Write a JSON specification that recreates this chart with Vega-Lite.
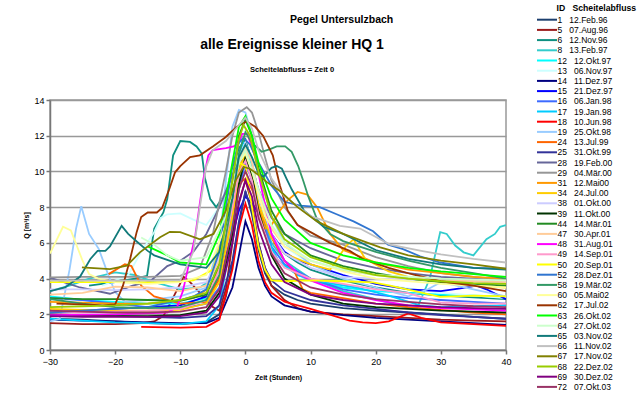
{
"$schema": "https://vega.github.io/schema/vega-lite/v6.json",
"background": "white",
"padding": {"left": 22, "top": 4, "right": 0, "bottom": 0},
"bounds": "flush",
"config": {"font": "Liberation Sans", "view": {"stroke": "#999", "strokeWidth": 1.5}},
"title": {"text": "Pegel Untersulzbach", "fontSize": 10.5, "fontWeight": "bold", "color": "#000", "anchor": "middle", "dx": 12, "offset": -21},
"datasets": {
"events": [{"id":1,"date":"12.Feb.96"},{"id":5,"date":"07.Aug.96"},{"id":6,"date":"12.Nov.96"},{"id":8,"date":"13.Feb.97"},{"id":12,"date":"12.Okt.97"},{"id":13,"date":"06.Nov.97"},{"id":14,"date":"11.Dez.97"},{"id":15,"date":"21.Dez.97"},{"id":16,"date":"06.Jan.98"},{"id":17,"date":"19.Jan.98"},{"id":18,"date":"10.Jun.98"},{"id":19,"date":"25.Okt.98"},{"id":24,"date":"13.Jul.99"},{"id":25,"date":"31.Okt.99"},{"id":28,"date":"19.Feb.00"},{"id":29,"date":"04.Mär.00"},{"id":31,"date":"12.Mai00"},{"id":34,"date":"24.Jul.00"},{"id":38,"date":"01.Okt.00"},{"id":39,"date":"11.Okt.00"},{"id":44,"date":"14.Mär.01"},{"id":47,"date":"30.Apr.01"},{"id":48,"date":"31.Aug.01"},{"id":49,"date":"14.Sep.01"},{"id":50,"date":"20.Sep.01"},{"id":52,"date":"28.Dez.01"},{"id":58,"date":"19.Mär.02"},{"id":60,"date":"05.Mai02"},{"id":62,"date":"17.Jul.02"},{"id":63,"date":"26.Okt.02"},{"id":64,"date":"27.Okt.02"},{"id":65,"date":"03.Nov.02"},{"id":66,"date":"11.Nov.02"},{"id":67,"date":"17.Nov.02"},{"id":68,"date":"22.Dez.02"},{"id":69,"date":"30.Dez.02"},{"id":72,"date":"07.Okt.03"}],
"q": [
{"id":1,"t":-30,"q":1.75},{"id":1,"t":-25,"q":1.7},{"id":1,"t":-20,"q":1.6},{"id":1,"t":-15,"q":1.5},{"id":1,"t":-10,"q":1.45},{"id":1,"t":-6,"q":1.55},{"id":1,"t":-4,"q":2.0},{"id":1,"t":-3,"q":3.0},{"id":1,"t":-2,"q":4.8},{"id":1,"t":-1,"q":7.0},{"id":1,"t":0,"q":8.9},{"id":1,"t":1,"q":7.6},{"id":1,"t":2,"q":5.6},{"id":1,"t":3,"q":4.3},{"id":1,"t":4,"q":3.6},{"id":1,"t":6,"q":3.1},{"id":1,"t":8,"q":2.8},{"id":1,"t":10,"q":2.6},{"id":1,"t":15,"q":2.35},{"id":1,"t":20,"q":2.2},{"id":1,"t":25,"q":2.1},{"id":1,"t":30,"q":2.0},{"id":1,"t":35,"q":1.85},{"id":1,"t":40,"q":1.75},
{"id":5,"t":-30,"q":1.5},{"id":5,"t":-25,"q":1.45},{"id":5,"t":-20,"q":1.45},{"id":5,"t":-16,"q":1.5},{"id":5,"t":-14,"q":1.6},{"id":5,"t":-12.6,"q":1.9},{"id":5,"t":-11,"q":3.0},{"id":5,"t":-9.5,"q":4.1},{"id":5,"t":-8.5,"q":3.8},{"id":5,"t":-6.5,"q":3.0},{"id":5,"t":-5,"q":2.4},{"id":5,"t":-4,"q":2.2},{"id":5,"t":-3,"q":3.4},{"id":5,"t":-2,"q":6.0},{"id":5,"t":-1,"q":8.3},{"id":5,"t":0,"q":9.5},{"id":5,"t":1,"q":8.2},{"id":5,"t":2,"q":6.0},{"id":5,"t":3,"q":4.6},{"id":5,"t":4,"q":3.6},{"id":5,"t":6,"q":2.8},{"id":5,"t":8,"q":2.35},{"id":5,"t":10,"q":2.15},{"id":5,"t":15,"q":2.0},{"id":5,"t":20,"q":1.9},{"id":5,"t":25,"q":1.8},{"id":5,"t":30,"q":1.7},{"id":5,"t":35,"q":1.65},{"id":5,"t":40,"q":1.6},
{"id":6,"t":-24,"q":3.6},{"id":6,"t":-20,"q":3.8},{"id":6,"t":-17,"q":4.0},{"id":6,"t":-15.1,"q":4.15},{"id":6,"t":-14,"q":6.8},{"id":6,"t":-12.6,"q":7.7},{"id":6,"t":-12,"q":8.45},{"id":6,"t":-11.1,"q":10.9},{"id":6,"t":-10,"q":11.7},{"id":6,"t":-8.5,"q":11.65},{"id":6,"t":-7.5,"q":11.4},{"id":6,"t":-6.7,"q":11.0},{"id":6,"t":-6.2,"q":9.6},{"id":6,"t":-5.4,"q":8.45},{"id":6,"t":-4.5,"q":8.0},{"id":6,"t":-3,"q":8.8},{"id":6,"t":-2,"q":10.2},{"id":6,"t":-1,"q":11.3},{"id":6,"t":0,"q":11.8},{"id":6,"t":1,"q":10.5},{"id":6,"t":2,"q":8.8},{"id":6,"t":3,"q":7.4},{"id":6,"t":4,"q":6.4},{"id":6,"t":6,"q":5.4},{"id":6,"t":8,"q":4.9},{"id":6,"t":10,"q":4.5},{"id":6,"t":15,"q":3.9},{"id":6,"t":20,"q":3.5},{"id":6,"t":25,"q":3.2},{"id":6,"t":30,"q":3.05},{"id":6,"t":35,"q":2.95},{"id":6,"t":40,"q":2.85},
{"id":8,"t":-30,"q":3.3},{"id":8,"t":-27,"q":3.6},{"id":8,"t":-24,"q":4.0},{"id":8,"t":-20,"q":4.35},{"id":8,"t":-17,"q":4.2},{"id":8,"t":-14,"q":3.8},{"id":8,"t":-10,"q":3.4},{"id":8,"t":-7,"q":3.5},{"id":8,"t":-5,"q":4.0},{"id":8,"t":-3,"q":6.0},{"id":8,"t":-2,"q":8.0},{"id":8,"t":-1,"q":10.0},{"id":8,"t":0,"q":10.8},{"id":8,"t":1,"q":9.8},{"id":8,"t":2,"q":8.0},{"id":8,"t":4,"q":6.0},{"id":8,"t":6,"q":5.0},{"id":8,"t":10,"q":4.0},{"id":8,"t":15,"q":3.3},{"id":8,"t":20,"q":2.85},{"id":8,"t":24,"q":2.45},{"id":8,"t":26.3,"q":2.3},{"id":8,"t":28.3,"q":4.0},{"id":8,"t":29.9,"q":6.6},{"id":8,"t":30.9,"q":6.5},{"id":8,"t":32.2,"q":5.85},{"id":8,"t":33.5,"q":5.47},{"id":8,"t":35,"q":5.3},{"id":8,"t":37,"q":6.2},{"id":8,"t":38.3,"q":6.5},{"id":8,"t":39.1,"q":6.9},{"id":8,"t":40,"q":7.0},
{"id":12,"t":-30,"q":3.0},{"id":12,"t":-25,"q":2.8},{"id":12,"t":-20,"q":2.7},{"id":12,"t":-15,"q":2.6},{"id":12,"t":-10,"q":2.6},{"id":12,"t":-6,"q":2.9},{"id":12,"t":-4,"q":4.0},{"id":12,"t":-2.5,"q":6.5},{"id":12,"t":-1.5,"q":9.5},{"id":12,"t":-0.5,"q":11.5},{"id":12,"t":0.5,"q":11.0},{"id":12,"t":1.5,"q":9.0},{"id":12,"t":3,"q":6.5},{"id":12,"t":5,"q":5.0},{"id":12,"t":8,"q":4.2},{"id":12,"t":10,"q":3.9},{"id":12,"t":15,"q":3.5},{"id":12,"t":20,"q":3.3},{"id":12,"t":25,"q":3.2},{"id":12,"t":30,"q":3.1},{"id":12,"t":35,"q":3.05},{"id":12,"t":40,"q":3.0},
{"id":13,"t":-22,"q":3.6},{"id":13,"t":-18,"q":4.2},{"id":13,"t":-16,"q":5.5},{"id":13,"t":-14,"q":6.6},{"id":13,"t":-13,"q":7.4},{"id":13,"t":-12,"q":7.6},{"id":13,"t":-10,"q":7.65},{"id":13,"t":-8,"q":7.3},{"id":13,"t":-6,"q":7.0},{"id":13,"t":-4,"q":8.0},{"id":13,"t":-2,"q":10.0},{"id":13,"t":-0.5,"q":11.3},{"id":13,"t":1,"q":10.2},{"id":13,"t":2,"q":8.8},{"id":13,"t":4,"q":7.0},{"id":13,"t":6,"q":5.8},{"id":13,"t":10,"q":4.8},{"id":13,"t":15,"q":4.1},{"id":13,"t":20,"q":3.7},{"id":13,"t":30,"q":3.2},{"id":13,"t":40,"q":2.9},
{"id":14,"t":-30,"q":1.7},{"id":14,"t":-25,"q":1.65},{"id":14,"t":-20,"q":1.6},{"id":14,"t":-15,"q":1.55},{"id":14,"t":-10,"q":1.5},{"id":14,"t":-6,"q":1.5},{"id":14,"t":-4,"q":1.8},{"id":14,"t":-2,"q":3.5},{"id":14,"t":-1,"q":5.3},{"id":14,"t":0,"q":7.2},{"id":14,"t":1,"q":6.2},{"id":14,"t":2,"q":4.6},{"id":14,"t":3,"q":3.6},{"id":14,"t":4,"q":3.0},{"id":14,"t":6,"q":2.5},{"id":14,"t":10,"q":2.15},{"id":14,"t":15,"q":1.95},{"id":14,"t":20,"q":1.8},{"id":14,"t":25,"q":1.7},{"id":14,"t":30,"q":1.6},{"id":14,"t":35,"q":1.5},{"id":14,"t":40,"q":1.4},
{"id":15,"t":-30,"q":2.1},{"id":15,"t":-25,"q":2.2},{"id":15,"t":-20,"q":2.3},{"id":15,"t":-15,"q":2.4},{"id":15,"t":-10,"q":2.5},{"id":15,"t":-6,"q":3.0},{"id":15,"t":-4,"q":4.0},{"id":15,"t":-2,"q":6.5},{"id":15,"t":-1,"q":7.8},{"id":15,"t":0,"q":8.6},{"id":15,"t":1,"q":8.2},{"id":15,"t":2,"q":7.7},{"id":15,"t":3,"q":7.45},{"id":15,"t":4,"q":6.5},{"id":15,"t":6,"q":5.5},{"id":15,"t":8,"q":5.0},{"id":15,"t":10,"q":4.8},{"id":15,"t":15,"q":4.2},{"id":15,"t":20,"q":3.7},{"id":15,"t":25,"q":3.4},{"id":15,"t":30,"q":3.3},{"id":15,"t":33,"q":3.45},{"id":15,"t":35.5,"q":3.6},{"id":15,"t":37,"q":3.4},{"id":15,"t":40,"q":2.85},
{"id":16,"t":-30,"q":2.9},{"id":16,"t":-25,"q":2.8},{"id":16,"t":-20,"q":2.6},{"id":16,"t":-15,"q":2.4},{"id":16,"t":-10,"q":2.3},{"id":16,"t":-6,"q":2.6},{"id":16,"t":-4,"q":3.5},{"id":16,"t":-2,"q":6.5},{"id":16,"t":-1,"q":9.0},{"id":16,"t":0,"q":10.5},{"id":16,"t":1,"q":9.5},{"id":16,"t":2,"q":7.8},{"id":16,"t":4,"q":5.8},{"id":16,"t":6,"q":4.8},{"id":16,"t":10,"q":4.0},{"id":16,"t":15,"q":3.4},{"id":16,"t":20,"q":3.1},{"id":16,"t":25,"q":2.9},{"id":16,"t":30,"q":2.8},{"id":16,"t":35,"q":2.7},{"id":16,"t":40,"q":2.6},
{"id":17,"t":-30,"q":1.75},{"id":17,"t":-25,"q":1.65},{"id":17,"t":-20,"q":1.55},{"id":17,"t":-15,"q":1.5},{"id":17,"t":-10,"q":1.45},{"id":17,"t":-6,"q":1.6},{"id":17,"t":-4,"q":2.5},{"id":17,"t":-2.5,"q":5.5},{"id":17,"t":-1.5,"q":9.0},{"id":17,"t":-0.5,"q":11.7},{"id":17,"t":0.5,"q":11.2},{"id":17,"t":1.5,"q":9.0},{"id":17,"t":3,"q":6.5},{"id":17,"t":5,"q":5.0},{"id":17,"t":8,"q":4.2},{"id":17,"t":12,"q":3.8},{"id":17,"t":17,"q":3.5},{"id":17,"t":22,"q":3.05},{"id":17,"t":26.8,"q":2.5},{"id":17,"t":30,"q":2.4},{"id":17,"t":35,"q":2.45},{"id":17,"t":40,"q":2.5},
{"id":18,"t":-16,"q":1.3},{"id":18,"t":-10,"q":1.25},{"id":18,"t":-6,"q":1.3},{"id":18,"t":-4,"q":1.7},{"id":18,"t":-2,"q":4.5},{"id":18,"t":-1,"q":6.8},{"id":18,"t":0,"q":8.2},{"id":18,"t":1,"q":7.0},{"id":18,"t":2,"q":5.0},{"id":18,"t":3,"q":3.8},{"id":18,"t":4,"q":3.2},{"id":18,"t":6,"q":2.7},{"id":18,"t":10,"q":2.3},{"id":18,"t":16,"q":1.65},{"id":18,"t":18,"q":1.55},{"id":18,"t":20,"q":1.5},{"id":18,"t":22,"q":1.6},{"id":18,"t":24,"q":1.9},{"id":18,"t":25,"q":2.05},{"id":18,"t":27,"q":1.8},{"id":18,"t":30,"q":1.55},{"id":18,"t":35,"q":1.45},{"id":18,"t":40,"q":1.35},
{"id":19,"t":-30,"q":1.6},{"id":19,"t":-28.5,"q":1.75},{"id":19,"t":-27,"q":4.5},{"id":19,"t":-26,"q":6.8},{"id":19,"t":-25.2,"q":8.05},{"id":19,"t":-24,"q":6.5},{"id":19,"t":-22.5,"q":5.65},{"id":19,"t":-21,"q":4.15},{"id":19,"t":-20,"q":3.25},{"id":19,"t":-18.5,"q":2.7},{"id":19,"t":-15,"q":2.8},{"id":19,"t":-10,"q":3.0},{"id":19,"t":-6,"q":3.5},{"id":19,"t":-4,"q":6.0},{"id":19,"t":-3,"q":9.5},{"id":19,"t":-2,"q":12.5},{"id":19,"t":-1,"q":13.45},{"id":19,"t":0,"q":13.3},{"id":19,"t":1,"q":12.0},{"id":19,"t":2,"q":10.0},{"id":19,"t":4,"q":7.5},{"id":19,"t":6,"q":6.0},{"id":19,"t":10,"q":4.8},{"id":19,"t":15,"q":4.0},{"id":19,"t":20,"q":3.5},{"id":19,"t":25,"q":3.0},{"id":19,"t":28,"q":3.4},{"id":19,"t":30,"q":3.8},{"id":19,"t":35,"q":3.4},{"id":19,"t":40,"q":3.0},
{"id":24,"t":-21,"q":4.25},{"id":24,"t":-18.5,"q":4.8},{"id":24,"t":-17.5,"q":4.7},{"id":24,"t":-16,"q":3.6},{"id":24,"t":-14,"q":3.0},{"id":24,"t":-10,"q":2.6},{"id":24,"t":-6,"q":2.7},{"id":24,"t":-4,"q":4.0},{"id":24,"t":-2,"q":7.5},{"id":24,"t":-1,"q":9.3},{"id":24,"t":0,"q":9.6},{"id":24,"t":1,"q":9.0},{"id":24,"t":2,"q":8.0},{"id":24,"t":4,"q":6.3},{"id":24,"t":6,"q":5.0},{"id":24,"t":7.5,"q":4.4},{"id":24,"t":8.8,"q":3.4},{"id":24,"t":10,"q":3.2},{"id":24,"t":15,"q":2.9},{"id":24,"t":20,"q":2.6},{"id":24,"t":25,"q":2.4},{"id":24,"t":30,"q":2.25},{"id":24,"t":35,"q":2.1},{"id":24,"t":40,"q":2.0},
{"id":25,"t":-30,"q":2.0},{"id":25,"t":-25,"q":1.95},{"id":25,"t":-20,"q":1.9},{"id":25,"t":-15,"q":1.85},{"id":25,"t":-10,"q":1.8},{"id":25,"t":-6,"q":1.9},{"id":25,"t":-4,"q":2.5},{"id":25,"t":-2,"q":5.0},{"id":25,"t":-1,"q":7.2},{"id":25,"t":0,"q":8.85},{"id":25,"t":1,"q":7.8},{"id":25,"t":2,"q":6.0},{"id":25,"t":3,"q":4.6},{"id":25,"t":4,"q":3.9},{"id":25,"t":6,"q":3.3},{"id":25,"t":10,"q":2.8},{"id":25,"t":15,"q":2.5},{"id":25,"t":20,"q":2.3},{"id":25,"t":25,"q":2.1},{"id":25,"t":30,"q":1.95},{"id":25,"t":35,"q":1.85},{"id":25,"t":40,"q":1.75},
{"id":28,"t":-30,"q":4.05},{"id":28,"t":-25.4,"q":3.5},{"id":28,"t":-20.8,"q":3.15},{"id":28,"t":-17.3,"q":3.6},{"id":28,"t":-14.6,"q":3.85},{"id":28,"t":-12,"q":4.7},{"id":28,"t":-10,"q":5.0},{"id":28,"t":-8,"q":5.5},{"id":28,"t":-6,"q":6.5},{"id":28,"t":-4,"q":8.0},{"id":28,"t":-2,"q":9.8},{"id":28,"t":-1,"q":10.5},{"id":28,"t":0,"q":10.8},{"id":28,"t":1,"q":10.2},{"id":28,"t":2,"q":9.0},{"id":28,"t":4,"q":7.4},{"id":28,"t":6,"q":6.5},{"id":28,"t":10,"q":5.7},{"id":28,"t":15,"q":5.0},{"id":28,"t":20,"q":4.6},{"id":28,"t":25,"q":4.3},{"id":28,"t":30,"q":4.1},{"id":28,"t":35,"q":4.0},{"id":28,"t":40,"q":3.9},
{"id":29,"t":-30,"q":4.07},{"id":29,"t":-25,"q":4.1},{"id":29,"t":-20,"q":4.1},{"id":29,"t":-15,"q":4.1},{"id":29,"t":-10,"q":4.15},{"id":29,"t":-7,"q":4.6},{"id":29,"t":-5,"q":6.5},{"id":29,"t":-3,"q":10.0},{"id":29,"t":-2,"q":12.0},{"id":29,"t":-1,"q":13.3},{"id":29,"t":0.2,"q":13.6},{"id":29,"t":1,"q":13.3},{"id":29,"t":2,"q":12.2},{"id":29,"t":3,"q":10.8},{"id":29,"t":4,"q":9.5},{"id":29,"t":6,"q":8.0},{"id":29,"t":8,"q":7.0},{"id":29,"t":10,"q":6.4},{"id":29,"t":15,"q":5.9},{"id":29,"t":20,"q":5.2},{"id":29,"t":25,"q":4.7},{"id":29,"t":30,"q":4.3},{"id":29,"t":35,"q":4.1},{"id":29,"t":40,"q":3.9},
{"id":31,"t":-30,"q":2.7},{"id":31,"t":-25,"q":2.65},{"id":31,"t":-20,"q":2.6},{"id":31,"t":-15,"q":2.6},{"id":31,"t":-11.6,"q":2.7},{"id":31,"t":-8,"q":2.9},{"id":31,"t":-5,"q":3.6},{"id":31,"t":-3,"q":6.0},{"id":31,"t":-2,"q":8.5},{"id":31,"t":-1,"q":10.3},{"id":31,"t":0,"q":10.8},{"id":31,"t":1,"q":9.8},{"id":31,"t":2,"q":8.0},{"id":31,"t":3,"q":6.8},{"id":31,"t":4,"q":7.0},{"id":31,"t":5.3,"q":7.8},{"id":31,"t":6.5,"q":8.4},{"id":31,"t":8,"q":8.85},{"id":31,"t":9.5,"q":8.7},{"id":31,"t":11,"q":8.0},{"id":31,"t":13,"q":6.5},{"id":31,"t":15,"q":5.6},{"id":31,"t":20,"q":4.9},{"id":31,"t":25,"q":4.5},{"id":31,"t":30,"q":4.3},{"id":31,"t":35,"q":4.1},{"id":31,"t":40,"q":4.0},
{"id":34,"t":-30,"q":2.3},{"id":34,"t":-25,"q":2.25},{"id":34,"t":-20,"q":2.2},{"id":34,"t":-15,"q":2.2},{"id":34,"t":-10,"q":2.25},{"id":34,"t":-6,"q":2.6},{"id":34,"t":-4,"q":3.8},{"id":34,"t":-2,"q":7.5},{"id":34,"t":-1,"q":10.0},{"id":34,"t":0,"q":11.0},{"id":34,"t":1,"q":10.0},{"id":34,"t":2,"q":8.2},{"id":34,"t":4,"q":6.3},{"id":34,"t":6,"q":5.4},{"id":34,"t":10,"q":4.8},{"id":34,"t":13,"q":4.5},{"id":34,"t":15.5,"q":5.85},{"id":34,"t":16.6,"q":6.2},{"id":34,"t":18.4,"q":5.1},{"id":34,"t":19.4,"q":4.9},{"id":34,"t":22,"q":4.4},{"id":34,"t":25,"q":4.1},{"id":34,"t":30,"q":3.8},{"id":34,"t":35,"q":3.6},{"id":34,"t":40,"q":3.5},
{"id":38,"t":-30,"q":3.4},{"id":38,"t":-25,"q":3.4},{"id":38,"t":-20,"q":3.35},{"id":38,"t":-15,"q":3.4},{"id":38,"t":-10,"q":3.5},{"id":38,"t":-6,"q":3.8},{"id":38,"t":-4,"q":5.2},{"id":38,"t":-2,"q":8.8},{"id":38,"t":-1,"q":10.8},{"id":38,"t":0,"q":11.6},{"id":38,"t":1,"q":10.6},{"id":38,"t":2,"q":8.6},{"id":38,"t":4,"q":6.5},{"id":38,"t":6,"q":5.4},{"id":38,"t":10,"q":4.6},{"id":38,"t":14.5,"q":4.1},{"id":38,"t":20,"q":4.0},{"id":38,"t":25,"q":3.95},{"id":38,"t":30,"q":3.9},{"id":38,"t":35,"q":3.85},{"id":38,"t":40,"q":3.8},
{"id":39,"t":-30,"q":2.0},{"id":39,"t":-25,"q":1.95},{"id":39,"t":-20,"q":1.9},{"id":39,"t":-15,"q":1.9},{"id":39,"t":-10,"q":1.95},{"id":39,"t":-6,"q":2.2},{"id":39,"t":-4,"q":3.2},{"id":39,"t":-2,"q":6.5},{"id":39,"t":-1,"q":9.3},{"id":39,"t":0,"q":10.8},{"id":39,"t":1,"q":9.8},{"id":39,"t":2,"q":7.8},{"id":39,"t":4,"q":5.3},{"id":39,"t":6,"q":4.0},{"id":39,"t":10,"q":3.1},{"id":39,"t":15,"q":2.6},{"id":39,"t":20,"q":2.4},{"id":39,"t":25,"q":2.3},{"id":39,"t":30,"q":2.2},{"id":39,"t":35,"q":2.15},{"id":39,"t":40,"q":2.1},
{"id":44,"t":-30,"q":2.9},{"id":44,"t":-25,"q":2.85},{"id":44,"t":-20,"q":2.85},{"id":44,"t":-15,"q":2.8},{"id":44,"t":-10,"q":2.75},{"id":44,"t":-6,"q":3.1},{"id":44,"t":-4,"q":4.8},{"id":44,"t":-2,"q":9.5},{"id":44,"t":-1,"q":12.0},{"id":44,"t":0,"q":12.9},{"id":44,"t":1,"q":12.0},{"id":44,"t":2,"q":10.2},{"id":44,"t":4,"q":7.8},{"id":44,"t":6,"q":6.5},{"id":44,"t":10,"q":5.3},{"id":44,"t":15,"q":4.7},{"id":44,"t":20,"q":4.3},{"id":44,"t":25,"q":4.0},{"id":44,"t":30,"q":3.8},{"id":44,"t":35,"q":3.7},{"id":44,"t":40,"q":3.6},
{"id":47,"t":-30,"q":3.1},{"id":47,"t":-25,"q":3.2},{"id":47,"t":-20,"q":3.55},{"id":47,"t":-15,"q":3.5},{"id":47,"t":-10,"q":3.3},{"id":47,"t":-6,"q":3.6},{"id":47,"t":-4,"q":5.0},{"id":47,"t":-2,"q":8.8},{"id":47,"t":-1,"q":10.6},{"id":47,"t":0,"q":11.3},{"id":47,"t":1,"q":10.5},{"id":47,"t":2,"q":8.8},{"id":47,"t":4,"q":6.8},{"id":47,"t":6,"q":5.8},{"id":47,"t":10,"q":5.0},{"id":47,"t":14.5,"q":4.5},{"id":47,"t":20,"q":4.2},{"id":47,"t":25,"q":4.0},{"id":47,"t":30,"q":3.9},{"id":47,"t":35,"q":3.85},{"id":47,"t":40,"q":3.8},
{"id":48,"t":-30,"q":1.95},{"id":48,"t":-20,"q":2.0},{"id":48,"t":-12,"q":2.1},{"id":48,"t":-10.5,"q":2.4},{"id":48,"t":-9.6,"q":3.3},{"id":48,"t":-8.5,"q":5.1},{"id":48,"t":-7.7,"q":6.4},{"id":48,"t":-6.5,"q":9.5},{"id":48,"t":-5.7,"q":10.9},{"id":48,"t":-5,"q":11.2},{"id":48,"t":-3,"q":11.3},{"id":48,"t":-1.8,"q":11.4},{"id":48,"t":-1,"q":11.6},{"id":48,"t":-0.5,"q":12.1},{"id":48,"t":0.3,"q":12.1},{"id":48,"t":1.5,"q":10.8},{"id":48,"t":2.5,"q":9.0},{"id":48,"t":4,"q":6.5},{"id":48,"t":6,"q":5.0},{"id":48,"t":8,"q":4.3},{"id":48,"t":10,"q":3.9},{"id":48,"t":15,"q":3.2},{"id":48,"t":20,"q":2.8},{"id":48,"t":25,"q":2.5},{"id":48,"t":30,"q":2.35},{"id":48,"t":40,"q":2.2},
{"id":49,"t":-30,"q":2.1},{"id":49,"t":-25,"q":2.1},{"id":49,"t":-20,"q":2.15},{"id":49,"t":-15,"q":2.2},{"id":49,"t":-10,"q":2.3},{"id":49,"t":-6,"q":2.8},{"id":49,"t":-4,"q":4.5},{"id":49,"t":-2,"q":8.0},{"id":49,"t":-1,"q":9.9},{"id":49,"t":0,"q":10.6},{"id":49,"t":1,"q":9.5},{"id":49,"t":2,"q":7.6},{"id":49,"t":4,"q":5.5},{"id":49,"t":6,"q":4.6},{"id":49,"t":10,"q":4.0},{"id":49,"t":15,"q":3.7},{"id":49,"t":20,"q":3.4},{"id":49,"t":24.8,"q":3.2},{"id":49,"t":29.9,"q":2.67},{"id":49,"t":35,"q":2.6},{"id":49,"t":40,"q":2.6},
{"id":50,"t":-30,"q":3.8},{"id":50,"t":-25,"q":3.8},{"id":50,"t":-20,"q":3.8},{"id":50,"t":-15,"q":3.8},{"id":50,"t":-11.6,"q":3.8},{"id":50,"t":-8,"q":3.9},{"id":50,"t":-5,"q":4.5},{"id":50,"t":-3,"q":7.0},{"id":50,"t":-2,"q":9.0},{"id":50,"t":-1,"q":10.5},{"id":50,"t":0,"q":10.3},{"id":50,"t":1,"q":8.0},{"id":50,"t":2,"q":5.8},{"id":50,"t":3,"q":4.5},{"id":50,"t":4,"q":3.9},{"id":50,"t":6,"q":3.85},{"id":50,"t":10,"q":3.9},{"id":50,"t":15,"q":3.85},{"id":50,"t":19.6,"q":3.79},{"id":50,"t":22.2,"q":3.6},{"id":50,"t":24.8,"q":3.4},{"id":50,"t":29.9,"q":2.97},{"id":50,"t":35,"q":3.04},{"id":50,"t":40,"q":3.0},
{"id":52,"t":-30,"q":2.1},{"id":52,"t":-25,"q":2.2},{"id":52,"t":-20,"q":2.3},{"id":52,"t":-15,"q":2.4},{"id":52,"t":-10,"q":2.8},{"id":52,"t":-8,"q":3.0},{"id":52,"t":-6,"q":3.4},{"id":52,"t":-4,"q":5.5},{"id":52,"t":-3,"q":8.0},{"id":52,"t":-2,"q":10.3},{"id":52,"t":-1,"q":11.6},{"id":52,"t":-0.3,"q":11.9},{"id":52,"t":0.7,"q":11.5},{"id":52,"t":2,"q":10.5},{"id":52,"t":4,"q":9.2},{"id":52,"t":6,"q":8.3},{"id":52,"t":8.4,"q":8.08},{"id":52,"t":11.4,"q":8.0},{"id":52,"t":14,"q":7.6},{"id":52,"t":16.6,"q":7.2},{"id":52,"t":19.6,"q":6.65},{"id":52,"t":21.9,"q":5.9},{"id":52,"t":24.2,"q":5.65},{"id":52,"t":26.8,"q":5.25},{"id":52,"t":29.9,"q":4.9},{"id":52,"t":35,"q":4.6},{"id":52,"t":40,"q":4.55},
{"id":58,"t":-30,"q":2.85},{"id":58,"t":-25,"q":2.6},{"id":58,"t":-20,"q":2.4},{"id":58,"t":-15,"q":2.35},{"id":58,"t":-10,"q":2.4},{"id":58,"t":-6,"q":2.8},{"id":58,"t":-4,"q":4.2},{"id":58,"t":-2,"q":8.5},{"id":58,"t":-1,"q":11.0},{"id":58,"t":0,"q":12.2},{"id":58,"t":1,"q":11.6},{"id":58,"t":2.5,"q":11.1},{"id":58,"t":3.8,"q":11.25},{"id":58,"t":4.8,"q":11.4},{"id":58,"t":6.1,"q":11.4},{"id":58,"t":7.1,"q":11.1},{"id":58,"t":8.1,"q":10.3},{"id":58,"t":8.9,"q":9.45},{"id":58,"t":9.65,"q":8.6},{"id":58,"t":11,"q":7.3},{"id":58,"t":13,"q":6.5},{"id":58,"t":15,"q":6.1},{"id":58,"t":20,"q":5.5},{"id":58,"t":25,"q":5.0},{"id":58,"t":30,"q":4.6},{"id":58,"t":35,"q":4.3},{"id":58,"t":40,"q":4.0},
{"id":60,"t":-30,"q":5.4},{"id":60,"t":-28,"q":6.9},{"id":60,"t":-26.8,"q":6.7},{"id":60,"t":-25,"q":5.0},{"id":60,"t":-24,"q":4.25},{"id":60,"t":-22.6,"q":4.0},{"id":60,"t":-20,"q":3.8},{"id":60,"t":-15,"q":3.7},{"id":60,"t":-10,"q":3.8},{"id":60,"t":-6,"q":4.2},{"id":60,"t":-3,"q":7.0},{"id":60,"t":-1,"q":10.5},{"id":60,"t":0,"q":11.0},{"id":60,"t":1,"q":10.0},{"id":60,"t":3,"q":7.5},{"id":60,"t":6,"q":5.8},{"id":60,"t":10,"q":5.0},{"id":60,"t":15,"q":4.4},{"id":60,"t":20,"q":4.0},{"id":60,"t":30,"q":3.7},{"id":60,"t":40,"q":3.5},
{"id":62,"t":-29,"q":2.6},{"id":62,"t":-25,"q":2.55},{"id":62,"t":-22,"q":2.5},{"id":62,"t":-20,"q":2.55},{"id":62,"t":-18.8,"q":3.6},{"id":62,"t":-17.7,"q":5.1},{"id":62,"t":-16.7,"q":6.6},{"id":62,"t":-16,"q":7.45},{"id":62,"t":-15,"q":7.7},{"id":62,"t":-13.6,"q":7.7},{"id":62,"t":-12.8,"q":7.95},{"id":62,"t":-11.6,"q":9.1},{"id":62,"t":-10.8,"q":9.95},{"id":62,"t":-10,"q":10.3},{"id":62,"t":-8.5,"q":10.8},{"id":62,"t":-7,"q":10.9},{"id":62,"t":-5,"q":11.4},{"id":62,"t":-3.1,"q":11.9},{"id":62,"t":-1.3,"q":12.5},{"id":62,"t":0.2,"q":12.8},{"id":62,"t":1.5,"q":12.5},{"id":62,"t":2.7,"q":12.0},{"id":62,"t":4.2,"q":10.9},{"id":62,"t":5.3,"q":9.2},{"id":62,"t":6.5,"q":7.8},{"id":62,"t":8,"q":7.0},{"id":62,"t":10,"q":6.6},{"id":62,"t":13,"q":6.0},{"id":62,"t":16,"q":5.55},{"id":62,"t":18,"q":5.1},{"id":62,"t":22,"q":4.6},{"id":62,"t":26,"q":4.2},{"id":62,"t":30,"q":3.85},{"id":62,"t":35,"q":3.6},{"id":62,"t":40,"q":3.3},
{"id":63,"t":-15,"q":5.8},{"id":63,"t":-12,"q":5.3},{"id":63,"t":-10,"q":4.9},{"id":63,"t":-6,"q":4.8},{"id":63,"t":-4,"q":6.5},{"id":63,"t":-2,"q":10.5},{"id":63,"t":-1,"q":12.5},{"id":63,"t":0,"q":13.1},{"id":63,"t":1,"q":12.0},{"id":63,"t":2,"q":10.5},{"id":63,"t":4,"q":8.5},{"id":63,"t":6,"q":7.3},{"id":63,"t":10,"q":6.0},{"id":63,"t":15,"q":5.3},{"id":63,"t":20,"q":4.9},{"id":63,"t":25,"q":4.6},{"id":63,"t":30,"q":4.4},{"id":63,"t":35,"q":4.25},{"id":63,"t":40,"q":4.1},
{"id":64,"t":-16,"q":6.3},{"id":64,"t":-14,"q":5.9},{"id":64,"t":-12,"q":5.3},{"id":64,"t":-10,"q":5.0},{"id":64,"t":-6,"q":5.2},{"id":64,"t":-3,"q":7.5},{"id":64,"t":-1,"q":10.5},{"id":64,"t":0,"q":11.2},{"id":64,"t":2,"q":9.0},{"id":64,"t":4,"q":7.0},{"id":64,"t":6,"q":6.0},{"id":64,"t":10,"q":5.0},{"id":64,"t":15,"q":4.5},{"id":64,"t":20,"q":4.2},{"id":64,"t":30,"q":4.0},{"id":64,"t":40,"q":3.9},
{"id":65,"t":-30,"q":3.3},{"id":65,"t":-27.7,"q":3.5},{"id":65,"t":-25.4,"q":4.1},{"id":65,"t":-23.8,"q":5.1},{"id":65,"t":-22.7,"q":5.55},{"id":65,"t":-21.5,"q":5.55},{"id":65,"t":-20.8,"q":5.8},{"id":65,"t":-19,"q":6.95},{"id":65,"t":-18,"q":6.5},{"id":65,"t":-16.6,"q":6.05},{"id":65,"t":-15,"q":5.55},{"id":65,"t":-14,"q":5.3},{"id":65,"t":-10,"q":4.8},{"id":65,"t":-6,"q":4.6},{"id":65,"t":-4,"q":5.5},{"id":65,"t":-2,"q":8.5},{"id":65,"t":-1,"q":10.8},{"id":65,"t":0,"q":11.5},{"id":65,"t":1,"q":10.8},{"id":65,"t":2,"q":9.9},{"id":65,"t":2.75,"q":9.7},{"id":65,"t":4,"q":10.2},{"id":65,"t":4.8,"q":10.3},{"id":65,"t":5.6,"q":10.15},{"id":65,"t":6.3,"q":9.6},{"id":65,"t":7.1,"q":9.0},{"id":65,"t":9,"q":7.8},{"id":65,"t":12,"q":6.9},{"id":65,"t":15,"q":6.5},{"id":65,"t":20,"q":5.6},{"id":65,"t":25,"q":5.1},{"id":65,"t":30,"q":4.8},{"id":65,"t":35,"q":4.6},{"id":65,"t":40,"q":4.5},
{"id":66,"t":-30,"q":3.88},{"id":66,"t":-25,"q":3.88},{"id":66,"t":-20,"q":3.88},{"id":66,"t":-15,"q":3.88},{"id":66,"t":-10,"q":3.9},{"id":66,"t":-8,"q":5.5},{"id":66,"t":-7,"q":8.0},{"id":66,"t":-6,"q":10.3},{"id":66,"t":-5,"q":11.2},{"id":66,"t":-3,"q":11.7},{"id":66,"t":-1,"q":12.6},{"id":66,"t":0,"q":13.0},{"id":66,"t":1,"q":12.4},{"id":66,"t":2,"q":11.2},{"id":66,"t":4,"q":9.6},{"id":66,"t":6,"q":8.6},{"id":66,"t":10,"q":7.5},{"id":66,"t":14.5,"q":6.95},{"id":66,"t":17.6,"q":6.8},{"id":66,"t":22.2,"q":5.9},{"id":66,"t":27,"q":5.55},{"id":66,"t":30,"q":5.35},{"id":66,"t":35,"q":5.1},{"id":66,"t":40,"q":4.9},
{"id":67,"t":-25.1,"q":4.63},{"id":67,"t":-20.8,"q":4.53},{"id":67,"t":-18.2,"q":4.72},{"id":67,"t":-16.2,"q":5.47},{"id":67,"t":-13.1,"q":6.31},{"id":67,"t":-11.6,"q":6.62},{"id":67,"t":-10,"q":6.6},{"id":67,"t":-7,"q":6.2},{"id":67,"t":-4.9,"q":6.5},{"id":67,"t":-3,"q":7.8},{"id":67,"t":-1.5,"q":9.5},{"id":67,"t":-0.3,"q":10.25},{"id":67,"t":0.7,"q":10.15},{"id":67,"t":2,"q":9.8},{"id":67,"t":3.3,"q":9.4},{"id":67,"t":5.3,"q":8.9},{"id":67,"t":8,"q":8.0},{"id":67,"t":11,"q":7.2},{"id":67,"t":15,"q":6.5},{"id":67,"t":20.7,"q":5.75},{"id":67,"t":25,"q":5.3},{"id":67,"t":30,"q":5.0},{"id":67,"t":35,"q":4.8},{"id":67,"t":40,"q":4.55},
{"id":68,"t":-30,"q":2.4},{"id":68,"t":-25,"q":2.45},{"id":68,"t":-20,"q":2.5},{"id":68,"t":-15,"q":2.6},{"id":68,"t":-10,"q":2.8},{"id":68,"t":-6,"q":3.2},{"id":68,"t":-4,"q":4.8},{"id":68,"t":-2,"q":9.5},{"id":68,"t":-1,"q":11.8},{"id":68,"t":-0.3,"q":12.6},{"id":68,"t":0.7,"q":12.0},{"id":68,"t":2,"q":10.0},{"id":68,"t":4,"q":7.5},{"id":68,"t":6,"q":6.2},{"id":68,"t":10,"q":5.2},{"id":68,"t":15,"q":4.6},{"id":68,"t":20,"q":4.2},{"id":68,"t":25,"q":4.0},{"id":68,"t":30,"q":3.85},{"id":68,"t":35,"q":3.75},{"id":68,"t":40,"q":3.7},
{"id":69,"t":-30,"q":1.9},{"id":69,"t":-25,"q":1.85},{"id":69,"t":-20,"q":1.85},{"id":69,"t":-15,"q":1.85},{"id":69,"t":-10,"q":1.9},{"id":69,"t":-6,"q":2.1},{"id":69,"t":-4,"q":3.0},{"id":69,"t":-2,"q":6.0},{"id":69,"t":-1,"q":8.2},{"id":69,"t":0,"q":9.5},{"id":69,"t":1,"q":8.6},{"id":69,"t":2,"q":6.8},{"id":69,"t":4,"q":4.8},{"id":69,"t":6,"q":3.8},{"id":69,"t":10,"q":3.1},{"id":69,"t":15,"q":2.8},{"id":69,"t":20,"q":2.6},{"id":69,"t":25,"q":2.5},{"id":69,"t":30,"q":2.4},{"id":69,"t":35,"q":2.35},{"id":69,"t":40,"q":2.3},
{"id":72,"t":-30,"q":2.2},{"id":72,"t":-25,"q":2.15},{"id":72,"t":-20,"q":2.1},{"id":72,"t":-15,"q":2.1},{"id":72,"t":-10,"q":2.15},{"id":72,"t":-6,"q":2.4},{"id":72,"t":-4,"q":3.4},{"id":72,"t":-2,"q":6.8},{"id":72,"t":-1,"q":9.0},{"id":72,"t":0,"q":10.0},{"id":72,"t":1,"q":9.2},{"id":72,"t":2,"q":7.4},{"id":72,"t":4,"q":5.4},{"id":72,"t":6,"q":4.3},{"id":72,"t":10,"q":3.5},{"id":72,"t":15,"q":3.1},{"id":72,"t":20,"q":2.85},{"id":72,"t":25,"q":2.7},{"id":72,"t":30,"q":2.55},{"id":72,"t":35,"q":2.45},{"id":72,"t":40,"q":2.4}
]
},
"vconcat": [{
"width": 456,
"height": 250,
"title": {"text": "alle Ereignisse kleiner HQ 1", "subtitle": "Scheitelabfluss = Zeit 0", "fontSize": 14, "fontWeight": "bold", "color": "#000", "subtitleFontSize": 7.6, "subtitleFontWeight": "bold", "subtitleColor": "#000", "subtitlePadding": 14, "anchor": "middle", "dx": 14, "offset": 22},
"data": {"name": "q"},
"transform": [
{"lookup": "id", "from": {"data": {"name": "events"}, "key": "id", "fields": ["date"]}},
{"calculate": "(datum.id < 10 ? '\u00a0\u00a0' : '') + datum.id + '\u00a0\u00a0\u00a0' + datum.date", "as": "series"}
],
"mark": {"type": "line", "strokeWidth": 1.8, "clip": true},
"encoding": {
"x": {"field": "t", "type": "quantitative", "scale": {"domain": [-30, 40], "nice": false},
 "axis": {"values": [-30, -20, -10, 0, 10, 20, 30, 40], "grid": false, "title": "Zeit (Stunden)", "titleFontSize": 7, "titleFontWeight": "bold", "titleColor": "#000", "titlePadding": 7, "labelFontSize": 9, "labelColor": "#000", "labelPadding": 3, "tickSize": 4, "tickColor": "#777", "tickWidth": 1.5, "domainColor": "#777", "domainWidth": 1.5, "labelFlush": false}},
"y": {"field": "q", "type": "quantitative", "scale": {"domain": [0, 14], "nice": false},
 "axis": {"values": [0, 2, 4, 6, 8, 10, 12, 14], "grid": true, "gridColor": "#999", "gridWidth": 1.5, "title": "Q [m³/s]", "titleFontSize": 7, "titleFontWeight": "bold", "titleColor": "#000", "titlePadding": 4, "labelFontSize": 9, "labelColor": "#000", "labelPadding": 2, "tickSize": 4, "tickColor": "#777", "tickWidth": 1.5, "domainColor": "#777", "domainWidth": 1.5}},
"color": {"field": "series", "type": "nominal",
 "scale": {
  "domain": ["\u00a0\u00a01\u00a0\u00a0\u00a012.Feb.96","\u00a0\u00a05\u00a0\u00a0\u00a007.Aug.96","\u00a0\u00a06\u00a0\u00a0\u00a012.Nov.96","\u00a0\u00a08\u00a0\u00a0\u00a013.Feb.97","12\u00a0\u00a0\u00a012.Okt.97","13\u00a0\u00a0\u00a006.Nov.97","14\u00a0\u00a0\u00a011.Dez.97","15\u00a0\u00a0\u00a021.Dez.97","16\u00a0\u00a0\u00a006.Jan.98","17\u00a0\u00a0\u00a019.Jan.98","18\u00a0\u00a0\u00a010.Jun.98","19\u00a0\u00a0\u00a025.Okt.98","24\u00a0\u00a0\u00a013.Jul.99","25\u00a0\u00a0\u00a031.Okt.99","28\u00a0\u00a0\u00a019.Feb.00","29\u00a0\u00a0\u00a004.Mär.00","31\u00a0\u00a0\u00a012.Mai00","34\u00a0\u00a0\u00a024.Jul.00","38\u00a0\u00a0\u00a001.Okt.00","39\u00a0\u00a0\u00a011.Okt.00","44\u00a0\u00a0\u00a014.Mär.01","47\u00a0\u00a0\u00a030.Apr.01","48\u00a0\u00a0\u00a031.Aug.01","49\u00a0\u00a0\u00a014.Sep.01","50\u00a0\u00a0\u00a020.Sep.01","52\u00a0\u00a0\u00a028.Dez.01","58\u00a0\u00a0\u00a019.Mär.02","60\u00a0\u00a0\u00a005.Mai02","62\u00a0\u00a0\u00a017.Jul.02","63\u00a0\u00a0\u00a026.Okt.02","64\u00a0\u00a0\u00a027.Okt.02","65\u00a0\u00a0\u00a003.Nov.02","66\u00a0\u00a0\u00a011.Nov.02","67\u00a0\u00a0\u00a017.Nov.02","68\u00a0\u00a0\u00a022.Dez.02","69\u00a0\u00a0\u00a030.Dez.02","72\u00a0\u00a0\u00a007.Okt.03"],
  "range": ["#1C3F6E","#9B1B1B","#0E8F80","#33CCCC","#00FFFF","#CCFFFF","#000080","#0000FF","#3D6BFF","#00CCFF","#FF0000","#99CCFF","#FF6600","#333399","#666699","#969696","#FF9900","#FFCC00","#CCCCFF","#003300","#228B22","#FFCC99","#FF00FF","#FF99CC","#FFFF00","#3075D0","#339966","#FFFF99","#993300","#00FF00","#CCFFCC","#117A7A","#C0C0C0","#808000","#99CC00","#800080","#993366"]
 },
 "legend": {"orient": "none", "legendX": 492, "legendY": -96, "title": "\u200b\u00a0\u00a0\u00a0\u00a0\u00a0\u00a0ID\u00a0\u00a0\u00a0Scheitelabfluss", "titleFontSize": 8.7, "titleFontWeight": "bold", "titleColor": "#000", "titlePadding": 2, "titleLimit": 300, "labelFontSize": 8.5, "labelColor": "#000", "labelOffset": 5.5, "symbolType": "M-2.5,0H2.5", "symbolSize": 64, "symbolStrokeWidth": 2, "rowPadding": 0.2, "padding": 0, "labelLimit": 200, "symbolLimit": 0, "symbolOpacity": 1}
}
}
}]
}
